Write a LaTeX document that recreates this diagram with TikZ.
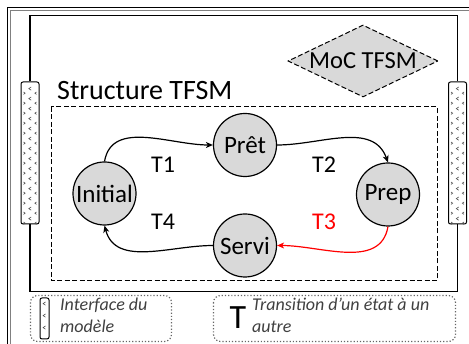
\documentclass[tikz,border=0pt]{standalone}
\usepackage{fontspec}
\setmainfont{Carlito}
\usepackage{tikz}
\usetikzlibrary{arrows.meta,shapes.geometric}

\tikzset{
  etat/.style={circle,draw,line width=1.2pt,fill=black!15,minimum size=63pt,inner sep=0pt,font=\fontsize{25}{28}\selectfont},
  trans/.style={line width=1.2pt,-{Stealth[length=7pt,width=6pt,inset=2pt]}},
  iface/.style={draw,line width=1pt,rounded corners=2pt,inner sep=0pt},
  tirets/.style={dash pattern=on 5pt off 2.5pt,line width=1pt},
  legende/.style={draw=black!60,dotted,line width=1.2pt,rounded corners=7pt},
  lbl/.style={font=\fontsize{24}{28}\selectfont}
}

\begin{document}
\begin{tikzpicture}[x=1pt,y=-1pt]
\useasboundingbox (0,0) rectangle (469,344);
\clip (0,0) rectangle (469,344);

% cadre exterieur
\draw[line width=1pt] (7.5,400) -- (7.5,7.5) -- (500,7.5);
\draw[gray,line width=1pt] (10.5,400) -- (10.5,10.5) -- (500,10.5);

% interfaces du modele
\node[iface,minimum width=18pt,minimum height=142pt] (ifL) at (30,153) {};
\node[iface,minimum width=18pt,minimum height=142pt] (ifR) at (457.5,153) {};
\foreach \cx in {30,457.5} {
  \foreach \k in {0,...,13} {
    \draw[black!70,line width=0.6pt] (\cx+1.2,87+10*\k) -- ++(-2.4,1.6) -- ++(2.4,1.6);
    \draw[black!70,line width=0.6pt] (\cx-6.5,92+10*\k) -- ++(1.6,1.2) -- ++(-1.6,1.2);
    \draw[black!70,line width=0.6pt] (\cx+6.5,92+10*\k) -- ++(-1.6,1.2) -- ++(1.6,1.2);
  }
}
\draw[line width=1.5pt] (ifL.north) -- ++(0,-66) -| (ifR.north);
\draw[line width=1.5pt] (ifL.south) -- ++(0,67) -| (ifR.south);

% MoC
\node[diamond,draw,tirets,fill=black!15,aspect=2.1,inner sep=1pt,minimum width=150pt,minimum height=72pt,font=\fontsize{24.5}{28}\selectfont] (moc) at (363,61) {MoC TFSM};

% structure
\node[anchor=west,font=\fontsize{28}{32}\selectfont,inner sep=0pt] (titre) at (57,91) {Structure TFSM};
\draw[tirets] (51,107) rectangle (437,281);

% etats
\node[etat] (pret) at (245,145) {Prêt};
\node[etat] (init) at (104.5,193.5) {Initial};
\node[etat] (prep) at (388,194.5) {Prep};
\node[etat] (servi) at (245,245.5) {Servi};

\draw[trans] (init.north) to[out=80,in=180] (pret.west);
\draw[trans] (pret.east) to[out=0,in=110] (prep.north);
\draw[trans,red] (prep.south) to[out=-100,in=0] (servi.east);
\draw[trans] (servi.west) to[out=180,in=-75] (init.south);

\node[lbl] (t1) at (163,165) {T1};
\node[lbl] (t2) at (324,165) {T2};
\node[lbl,red] (t3) at (324,222) {T3};
\node[lbl] (t4) at (163,222) {T4};

% legende
\draw[legende] (30.5,295.5) rectangle (171.5,341.5);
\draw[legende] (213.5,295.5) rectangle (455.5,341.5);
\node[iface,minimum width=9pt,minimum height=41pt] (ifleg) at (44.5,318.5) {};
\foreach \k in {0,1,2} {
  \draw[black!70,line width=0.6pt] (45.5,302+12*\k) -- ++(-2.4,1.6) -- ++(2.4,1.6);
}
\node[anchor=north west,align=left,inner sep=0pt,text=black!75,font=\fontsize{18}{22}\itshape] (legif) at (60,298) {Interface du\\modèle};
\node[font=\fontsize{34}{34}\selectfont,inner sep=0pt] (legt) at (238,318) {T};
\node[anchor=north west,align=left,inner sep=0pt,text=black!75,font=\fontsize{18}{22}\itshape] (legtr) at (252,298) {Transition d’un état à un\\autre};
\end{tikzpicture}
\end{document}
